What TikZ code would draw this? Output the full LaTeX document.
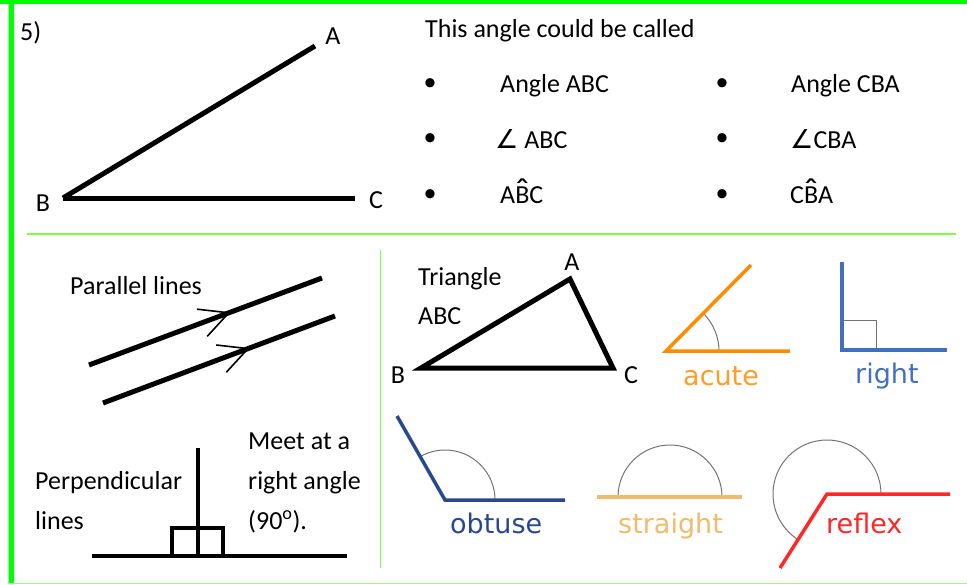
\documentclass[tikz,border=0pt]{standalone}
\usepackage{fontspec}
\setmainfont{Carlito}
\newfontfamily\kidfont{DejaVu Sans}
\newfontfamily\symfont{DejaVu Sans}
\usetikzlibrary{calc}
\definecolor{framegreen}{RGB}{0,255,0}
\definecolor{palegreen}{RGB}{160,240,160}
\definecolor{rulegreen}{RGB}{128,255,64}
\definecolor{acutecol}{RGB}{255,140,0}
\definecolor{rightcol}{RGB}{66,112,190}
\definecolor{obtusecol}{RGB}{40,72,140}
\definecolor{straightcol}{RGB}{238,188,108}
\definecolor{reflexcol}{RGB}{255,40,40}
\newcommand{\caret}[1]{\ooalign{#1\cr\hidewidth\raisebox{-1pt}{\fontsize{38}{38}\selectfont\char"02C6}\hidewidth\cr}}

\begin{document}
\begin{tikzpicture}[
  x=1pt, y=-1pt,
  font=\fontsize{26}{30}\selectfont,
  txt/.style={anchor=base west, inner sep=0pt},
  lbl/.style={inner sep=0pt},
  kid/.style={anchor=base west, inner sep=0pt, font=\kidfont\fontsize{27}{30}\selectfont},
  seg/.style={line width=5pt},
  perp/.style={line width=4pt},
  chev/.style={line width=1.6pt},
  ray/.style={line width=3.5pt},
  arcline/.style={draw=black!55, line width=1pt},
  sep/.style={draw=rulegreen, line width=1.5pt}
]
\useasboundingbox (0,0) rectangle (967,584);
% frame
\fill[framegreen] (0,0) rectangle (967,4);
\fill[framegreen] (9,0) rectangle (14,584);
\coordinate (f1) at (8,4);
\coordinate (f2) at (8,583);
\coordinate (f3) at (967,583);
\draw[palegreen, line width=1pt] (f1) -- (f2) -- (f3);
\coordinate (h1) at (27,234);
\coordinate (h2) at (956,234);
\coordinate (v1) at (380,250);
\coordinate (v2) at (380,568);
\draw[sep] (h1) -- (h2);
\draw[sep, line width=1pt] (v1) -- (v2);

% angle ABC
\node[txt] (num) at (20,40) {5)};
\coordinate (A) at (315,46);
\coordinate (B) at (63,198);
\coordinate (C) at (355,198);
\draw[seg] (B) -- (A);
\draw[seg] (B) -- (C);
\node[lbl] (lA) at (333,36) {A};
\node[lbl] (lB) at (43,203) {B};
\node[lbl] (lC) at (376,200) {C};

% names
\node[txt] (title) at (425,37) {This angle could be called};
\foreach \n/\y in {1/85,2/140,3/196}{
  \node[lbl] (bl\n) at (430,\y) {\textbullet};
  \node[lbl] (br\n) at (722,\y) {\textbullet};
}
\node[txt] (n1) at (500,92) {Angle ABC};
\node[txt] (n2) at (495,148) {{\symfont∠} ABC};
\node[txt] (n3) at (500,203) {A\caret{B}C};
\node[txt] (n4) at (791,92) {Angle CBA};
\node[txt] (n5) at (790,148) {{\symfont∠}CBA};
\node[txt] (n6) at (790,203) {C\caret{B}A};

% parallel lines
\node[txt] (par) at (70,294) {Parallel lines};
\coordinate (p1s) at (89,365);
\coordinate (p1e) at (322,278);
\coordinate (p2s) at (103,403);
\coordinate (p2e) at (335,316);
\draw[seg] (p1s) -- (p1e);
\draw[seg] (p2s) -- (p2e);
\coordinate (t1) at ($(p1s)!0.6!(p1e)$);
\coordinate (t2) at ($(p2s)!0.625!(p2e)$);
\foreach \t in {t1,t2}{\draw[chev] (\t) ++(186.5:32) -- (\t) -- ++(132.5:32);}

% perpendicular lines
\node[txt] (perp1) at (35,489) {Perpendicular};
\node[txt] (perp2) at (35,529) {lines};
\node[txt] (meet1) at (248,449) {Meet at a};
\node[txt] (meet2) at (248,489) {right angle};
\node[txt] (meet3) at (248,529) {(90\textsuperscript{o}).};
\coordinate (q0) at (92,556);
\coordinate (q1) at (347,556);
\coordinate (qt) at (198,448);
\coordinate (qf) at (198,556);
\coordinate (s1) at (172,556);
\coordinate (s2) at (223,528);
\draw[perp] (q0) -- (q1);
\draw[perp] (qt) -- (qf);
\draw[perp] (s1) rectangle (s2);

% triangle
\node[txt] (tri1) at (418,285) {Triangle};
\node[txt] (tri2) at (418,324) {ABC};
\coordinate (tA) at (570,279);
\coordinate (tB) at (421,368);
\coordinate (tC) at (613,368);
\draw[seg] (tA) -- (tB) -- (tC) -- cycle;
\node[lbl] (tlA) at (572,262) {A};
\node[lbl] (tlB) at (398,375) {B};
\node[lbl] (tlC) at (631,375) {C};

% acute
\coordinate (ac0) at (666,351);
\coordinate (ac1) at (790,351);
\coordinate (ac2) at (751,265);
\draw[arcline] (ac0) ++(53,0) arc[start angle=0, end angle=-45.7, radius=53];
\draw[ray, acutecol] (ac1) -- (ac0) -- (ac2);
\node[kid, text=acutecol!85] (acute) at (683,385) {acute};

% right
\coordinate (rt0) at (842,350);
\coordinate (rt1) at (947,350);
\coordinate (rt2) at (842,262);
\coordinate (rq) at (876,320);
\draw[arcline] (rt0) rectangle (rq);
\draw[ray, rightcol] (rt2) -- (rt0) -- (rt1);
\node[kid, text=rightcol] (right) at (855,383) {right};

% obtuse
\coordinate (ob0) at (445,500);
\coordinate (ob1) at (565,500);
\coordinate (ob2) at (397,416);
\draw[arcline] (ob0) ++(50,0) arc[start angle=0, end angle=-119.7, radius=50];
\draw[ray, obtusecol] (ob2) -- (ob0) -- (ob1);
\node[kid, text=obtusecol] (obtuse) at (450,533) {obtuse};

% straight
\coordinate (st0) at (670,497);
\coordinate (st1) at (597,497);
\coordinate (st2) at (742,497);
\draw[arcline] (st0) ++(52,0) arc[start angle=0, end angle=-180, radius=52];
\draw[ray, straightcol] (st1) -- (st2);
\node[kid, text=straightcol] (straight) at (618,533) {straight};

% reflex
\coordinate (rf0) at (827,494);
\coordinate (rf1) at (950,494);
\coordinate (rf2) at (780,568);
\draw[arcline] (rf0) ++(54,0) arc[start angle=0, end angle=-237.6, radius=54];
\draw[ray, reflexcol] (rf2) -- (rf0) -- (rf1);
\node[kid, text=reflexcol] (reflex) at (826,533) {reflex};
\end{tikzpicture}
\end{document}
